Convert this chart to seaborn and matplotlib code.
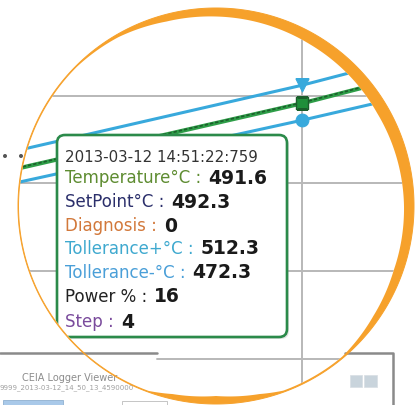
import numpy as np
import pandas as pd
import matplotlib
matplotlib.use("Agg")
import matplotlib.pyplot as plt
import seaborn as sns
from matplotlib.patches import Polygon, FancyBboxPatch, Rectangle, Circle

sns.set_theme(style="white")
plt.rcParams["font.family"] = ["DejaVu Sans"]

# magnified logger trace: seconds relative to the cursor, values in °C
times = [-30, 0, 12]
tol_plus = [433.7, 512.3, 548.0]
temperature = [413.0, 491.6, 527.0]
setpoint = [413.7, 492.3, 527.7]
tol_minus = [397.3, 472.3, 504.0]
grid_levels = [500, 400, 300]

# tooltip content
stamp = "2013-03-12 14:51:22:759"
labels = ["Temperature°C", "SetPoint°C", "Diagnosis", "Tollerance+°C",
          "Tollerance-°C", "Power %", "Step"]
values = ["491.6", "492.3", "0", "512.3", "472.3", "16", "4"]
label_colors = ["#5e8c31", "#2b2f6b", "#d2783a", "#3fa9cf",
                "#4a9fd8", "#222222", "#7a4b9c"]

ORANGE = "#f6a12b"
CYAN = "#38a9dc"
GREEN = "#2e9e48"
DKGREEN = "#1b5e2b"
GRID = "#b8b8b8"

W, H = 419, 405
fig = plt.figure(figsize=(W / 100, H / 100), dpi=100)

# chart axes: 10 px per second (cursor at x=302), 0.875 px per °C (500 °C at y=96)
chart = fig.add_axes([0, 0, 1, 1])
chart.set_xlim(-302 / 10, (W - 302) / 10)
chart.set_ylim(500 - (H - 96) / 0.875, 500 + 96 / 0.875)
chart.axis("off")

# overlay axes in pixel units for the decoration
deco = fig.add_axes([0, 0, 1, 1])
deco.set_xlim(0, W)
deco.set_ylim(H, 0)
deco.axis("off")
deco.patch.set_alpha(0)

# magnifier ring
cx, cy, R = 216, 206, 198
ring_ang = [0, 30, 60, 90, 105, 120, 135, 180, 225, 250, 257, 270, 283, 290,
            310, 325, 340, 360]
ring_w = [10, 12, 11, 8.5, 7, 3, 1.2, 1, 1, 1.2, 5, 8, 5, 1.5, 1.5, 6, 9, 10]
theta = np.linspace(0, 360, 721)
width = np.interp(theta, ring_ang, ring_w)
rad = np.radians(theta)
outer = np.c_[cx + R * np.cos(rad), cy - R * np.sin(rad)]
inner = np.c_[cx + (R - width) * np.cos(rad), cy - (R - width) * np.sin(rad)]
disc = Polygon(inner, closed=True, transform=deco.transData)

# lines
df = pd.DataFrame({
    "time": times * 4,
    "value": tol_plus + tol_minus + temperature + setpoint,
    "series": ["tol+"] * 3 + ["tol-"] * 3 + ["temp"] * 3 + ["sp"] * 3,
})
for lvl in grid_levels:
    chart.axhline(lvl, color=GRID, lw=1.4, zorder=1)
chart.axhline(200, xmin=157 / W, color=GRID, lw=1.4, zorder=1)
chart.axvline(0, color=GRID, lw=1.4, zorder=1)

sns.lineplot(data=df[df.series == "tol+"], x="time", y="value", color=CYAN,
             lw=2.2, ax=chart, zorder=2)
sns.lineplot(data=df[df.series == "tol-"], x="time", y="value", color=CYAN,
             lw=2.2, ax=chart, zorder=2)
sns.lineplot(data=df[df.series == "temp"], x="time", y="value", color=GREEN,
             lw=3.0, ax=chart, zorder=3)
sns.lineplot(data=df[df.series == "sp"], x="time", y="value", color=DKGREEN,
             lw=1.2, ax=chart, zorder=4, linestyle=(0, (2, 1.2)))

cur = pd.DataFrame({"time": [0, 0, 0],
                    "value": [tol_plus[1], temperature[1], tol_minus[1]]})
sns.scatterplot(data=cur.iloc[[0]], x="time", y="value", marker="v", s=90,
                color=CYAN, edgecolor=CYAN, ax=chart, zorder=5)
sns.scatterplot(data=cur.iloc[[1]], x="time", y="value", marker="s", s=85,
                color="#1f8f3a", edgecolor=DKGREEN, linewidth=1, ax=chart, zorder=5)
sns.scatterplot(data=cur.iloc[[2]], x="time", y="value", marker="o", s=85,
                color=CYAN, edgecolor=CYAN, ax=chart, zorder=5)
chart.set_xlabel("")
chart.set_ylabel("")
for art in list(chart.lines) + list(chart.collections):
    art.set_clip_path(disc)

# tooltip
shadow = FancyBboxPatch((59, 137), 230, 202, boxstyle="round,pad=0,rounding_size=8",
                        fc="#999999", ec="none", alpha=0.25, zorder=5)
box = FancyBboxPatch((57, 135), 230, 202, boxstyle="round,pad=0,rounding_size=8",
                     fc="white", ec="#2b8a4a", lw=1.9, zorder=6)
for p in (shadow, box):
    deco.add_patch(p)
    p.set_clip_path(disc)

deco.text(65, 158, stamp, fontsize=10.8, color="#333333", va="center", zorder=7)
row_y = [178, 202, 226, 249, 273, 297, 322]
for y, lab, val, col in zip(row_y, labels, values, label_colors):
    t = deco.text(65, y, lab + " :", fontsize=12, color=col, va="center", zorder=7)
    deco.annotate(val, xy=(1, 0.5), xycoords=t, xytext=(5, 0),
                  textcoords="offset points", fontsize=13.5, fontweight="bold",
                  color="#1a1a1a", va="center", ha="left", zorder=7)

# dots left of the lens
deco.add_patch(Circle((5, 156), 2, fc="#555555", ec="none", zorder=8))
deco.add_patch(Circle((21, 156), 2, fc="#555555", ec="none", zorder=8))

# background viewer window below the lens
deco.plot([0, 157], [353, 353], color="#8a8a8a", lw=1.8, zorder=8)
deco.plot([345, 393, 393], [353, 353, H], color="#8a8a8a", lw=1.8, zorder=8)
deco.text(70, 378, "CEIA Logger Viewer", fontsize=7, color="#8c8c8c",
          ha="center", va="center", zorder=9)
deco.text(0, 388, "9999_2013-03-12_14_50_13_4590000", fontsize=5, color="#a0a0a0",
          ha="left", va="center", zorder=9)
deco.add_patch(Rectangle((3, 400), 60, 6, fc="#a9c9e9", ec="#8fb0d0", lw=0.6, zorder=8))
deco.add_patch(Rectangle((122, 401), 45, 6, fc="white", ec="#bbbbbb", lw=0.6, zorder=8))
deco.add_patch(Rectangle((350, 375), 12, 12, fc="#c9d4dc", ec="#d8dee3", lw=0.5, zorder=8))
deco.add_patch(Rectangle((364, 375), 13, 12, fc="#c9d4dc", ec="#d8dee3", lw=0.5, zorder=8))

# orange lens ring on top
ring = Polygon(np.vstack([outer, inner[::-1]]), closed=True, fc=ORANGE,
               ec="none", zorder=12)
deco.add_patch(ring)
deco.add_patch(Polygon(outer, closed=True, fill=False, ec=ORANGE, lw=0.7, zorder=12))

fig.savefig("out.png", dpi=100)
